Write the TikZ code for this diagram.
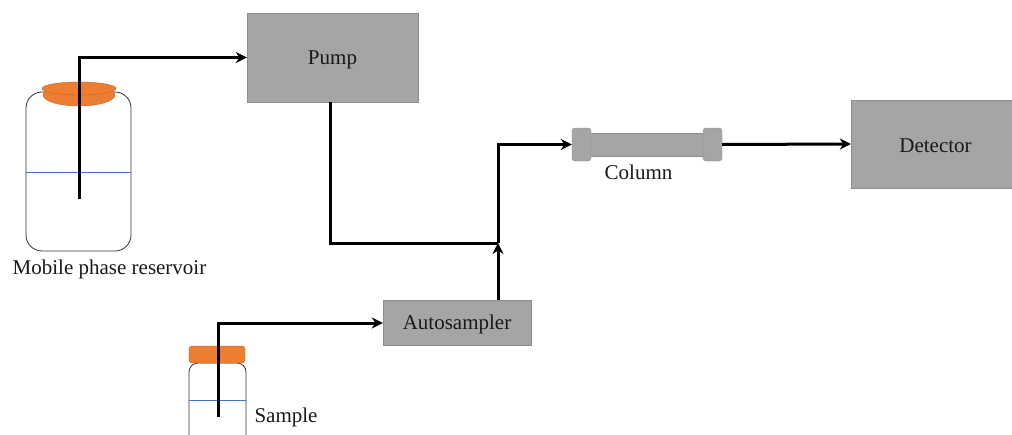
\documentclass[tikz,border=0pt]{standalone}
\usepackage{fontspec}
\setmainfont{Liberation Serif}
\usetikzlibrary{shapes.geometric, arrows.meta}
\usepackage{xcolor}
\definecolor{xgray}{HTML}{A5A5A5}
\definecolor{xorange}{HTML}{ED7D31}
\definecolor{xblue}{HTML}{4472C4}
\tikzset{
	arrow/.style={line width=3pt, -{Stealth[length=11pt, width=11pt]}},
	pipe/.style={line width=3pt},
	box/.style={rectangle, draw=gray!90, fill=xgray, inner sep=0pt},
	capbox/.style={rectangle, rounded corners=3pt, draw=gray!90, fill=xgray, inner sep=0pt},
	bottle/.style={rectangle, draw=black!80, fill=white, thick, inner sep=0pt},
	lid/.style={ellipse, draw=xorange!80!black, fill=xorange, inner sep=0pt},
	liquid/.style={draw=xblue, line width=1pt},
	txt/.style={font=\fontsize{21}{24}\selectfont, text=black!90, text height=14pt, text depth=0.6pt},
}
\begin{document}
\begin{tikzpicture}[x=1pt, y=-1pt]
		\clip (0,0) rectangle (1012,434);
		\fill[white] (0,0) rectangle (1012,434);

		% Reservoir
		\node[bottle, rounded corners=16pt, minimum width=105pt, minimum height=159pt] (reservoir) at (78.5,171.5) {};
		\node[lid, minimum width=72pt, minimum height=22pt] (lidlow) at (79,95) {};
		\node[lid, minimum width=74pt, minimum height=13pt] (lidtop) at (79,88.5) {};
		\draw[liquid] (reservoir.west |- 0,172.5) -- (reservoir.east |- 0,172.5);
		\node[txt] (reservoirtext) at (109.5,268) {Mobile phase reservoir};

		% Sample
		\node[bottle, rounded corners=9pt, minimum width=57pt, minimum height=82pt] (vial) at (217.5,404) {};
		\node[capbox, draw=xorange!80!black, fill=xorange, minimum width=56pt, minimum height=17pt] (vialcap) at (217,354.5) {};
		\draw[liquid] (vial.west |- 0,400.8) -- (vial.east |- 0,400.8);
		\node[txt] (sampletext) at (286,416) {Sample};

		% Instruments
		\node[box, minimum width=171pt, minimum height=89pt, txt] (pump) at (332.5,57.5) {Pump};
		\node[box, minimum width=148pt, minimum height=45pt, txt] (autosampler) at (457,323) {Autosampler};
		\node[box, minimum width=161pt, minimum height=88pt, txt] (detector) at (931.5,144) {\hspace*{8pt}\raisebox{-1.5pt}{Detector}};

		% Column
		\node[box, minimum width=114pt, minimum height=23pt] (tube) at (647.5,144.5) {};
		\node[capbox, minimum width=19pt, minimum height=33pt] (capleft) at (581.5,144.5) {};
		\node[capbox, minimum width=19pt, minimum height=33pt] (capright) at (712.5,144.5) {};
		\node[txt] (columntext) at (638.5,173) {Column};

		% Lines
		\coordinate (dipres) at (79,199);
		\coordinate (dipvial) at (218,417);
		\coordinate (pumpout) at (330,102);
		\coordinate (join) at (498,243);

		\draw[arrow] (dipres) |- (pump.west);
		\draw[arrow] (dipvial) |- (autosampler.west);
		\draw[pipe] (pumpout) |- (join);
		\draw[arrow] (autosampler.north -| join) -- (join);
		\draw[arrow] (join) |- (capleft.west);
		\draw[arrow] (capright.east) -- (detector.west);
	\end{tikzpicture}
\end{document}
